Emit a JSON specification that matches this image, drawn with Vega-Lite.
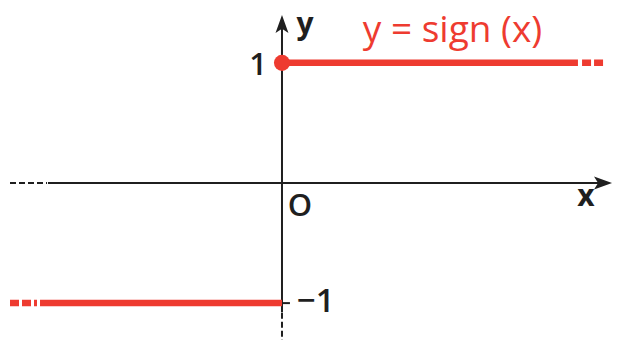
{
  "$schema": "https://vega.github.io/schema/vega-lite/v6.json",
  "width": 617,
  "height": 341,
  "padding": 0,
  "autosize": {"type": "fit", "contains": "padding"},
  "background": "white",
  "config": {"view": {"stroke": null}},
  "layer": [
    {
      "data": {"values": [
        {"x": -1.942, "y": 0, "x2": 2.68, "y2": 0},
        {"x": 0, "y": 1.357, "x2": 0, "y2": -1.075},
        {"x": -0.058, "y": -1, "x2": 0.066, "y2": -1}
      ]},
      "mark": {"type": "rule", "color": "#1f1f1f", "strokeWidth": 2},
      "encoding": {
        "x": {"field": "x", "type": "quantitative", "scale": {"domain": [-2.34, 2.78], "nice": false, "zero": false}, "axis": null},
        "y": {"field": "y", "type": "quantitative", "scale": {"domain": [-1.307, 1.523], "nice": false, "zero": false}, "axis": null},
        "x2": {"field": "x2"},
        "y2": {"field": "y2"}
      }
    },
    {
      "data": {"values": [
        {"x": -2.257, "y": 0, "x2": -1.95, "y2": 0},
        {"x": 0, "y": -1.08, "x2": 0, "y2": -1.307}
      ]},
      "mark": {"type": "rule", "color": "#1f1f1f", "strokeWidth": 2, "strokeDash": [6, 3]},
      "encoding": {
        "x": {"field": "x", "type": "quantitative"},
        "y": {"field": "y", "type": "quantitative"},
        "x2": {"field": "x2"},
        "y2": {"field": "y2"}
      }
    },
    {
      "data": {"values": [
        {"x": 0, "y": 1, "x2": 2.456, "y2": 1},
        {"x": -2.008, "y": -1, "x2": 0, "y2": -1}
      ]},
      "mark": {"type": "rule", "color": "#ee3b30", "strokeWidth": 6.5},
      "encoding": {
        "x": {"field": "x", "type": "quantitative"},
        "y": {"field": "y", "type": "quantitative"},
        "x2": {"field": "x2"},
        "y2": {"field": "y2"}
      }
    },
    {
      "data": {"values": [
        {"x": 2.49, "y": 1, "x2": 2.68, "y2": 1},
        {"x": -2.257, "y": -1, "x2": -2.033, "y2": -1}
      ]},
      "mark": {"type": "rule", "color": "#ee3b30", "strokeWidth": 6.5, "strokeDash": [9, 3]},
      "encoding": {
        "x": {"field": "x", "type": "quantitative"},
        "y": {"field": "y", "type": "quantitative"},
        "x2": {"field": "x2"},
        "y2": {"field": "y2"}
      }
    },
    {
      "data": {"values": [{"x": 0, "y": 1}]},
      "mark": {"type": "point", "filled": true, "color": "#ee3b30", "opacity": 1, "size": 260},
      "encoding": {
        "x": {"field": "x", "type": "quantitative"},
        "y": {"field": "y", "type": "quantitative"}
      }
    },
    {
      "data": {"values": [{"x": 2.664, "y": 0}]},
      "mark": {"type": "point", "filled": true, "color": "#1f1f1f", "opacity": 1, "size": 324, "shape": "M1,0 L-1,-0.72 L-0.55,0 L-1,0.72 Z"},
      "encoding": {
        "x": {"field": "x", "type": "quantitative"},
        "y": {"field": "y", "type": "quantitative"}
      }
    },
    {
      "data": {"values": [{"x": 0, "y": 1.324}]},
      "mark": {"type": "point", "filled": true, "color": "#1f1f1f", "opacity": 1, "size": 324, "shape": "M0,-1 L-0.72,1 L0,0.55 L0.72,1 Z"},
      "encoding": {
        "x": {"field": "x", "type": "quantitative"},
        "y": {"field": "y", "type": "quantitative"}
      }
    },
    {
      "data": {"values": [
        {"x": 0.191, "y": 1.241, "label": "y"},
        {"x": 2.523, "y": -0.195, "label": "x"}
      ]},
      "mark": {"type": "text", "font": "Open Sans", "fontSize": 30, "fontWeight": 700, "color": "#1f1f1f", "align": "center", "baseline": "alphabetic"},
      "encoding": {
        "x": {"field": "x", "type": "quantitative"},
        "y": {"field": "y", "type": "quantitative"},
        "text": {"field": "label"}
      }
    },
    {
      "data": {"values": [
        {"x": -0.199, "y": 0.9, "label": "1"},
        {"x": 0.149, "y": -0.278, "label": "O"}
      ]},
      "mark": {"type": "text", "font": "Open Sans", "fontSize": 31, "fontWeight": 600, "color": "#1f1f1f", "align": "center", "baseline": "alphabetic"},
      "encoding": {
        "x": {"field": "x", "type": "quantitative"},
        "y": {"field": "y", "type": "quantitative"},
        "text": {"field": "label"}
      }
    },
    {
      "data": {"values": [{"x": 0.124, "y": -1.075, "label": "−1"}]},
      "mark": {"type": "text", "font": "Open Sans", "fontSize": 33, "fontWeight": 600, "color": "#1f1f1f", "align": "left", "baseline": "alphabetic"},
      "encoding": {
        "x": {"field": "x", "type": "quantitative"},
        "y": {"field": "y", "type": "quantitative"},
        "text": {"field": "label"}
      }
    },
    {
      "data": {"values": [{"x": 1.415, "y": 1.174, "label": "y = sign (x)"}]},
      "mark": {"type": "text", "font": "Open Sans", "fontSize": 37, "fontWeight": 500, "color": "#ee3b30", "align": "center", "baseline": "alphabetic"},
      "encoding": {
        "x": {"field": "x", "type": "quantitative"},
        "y": {"field": "y", "type": "quantitative"},
        "text": {"field": "label"}
      }
    }
  ]
}
